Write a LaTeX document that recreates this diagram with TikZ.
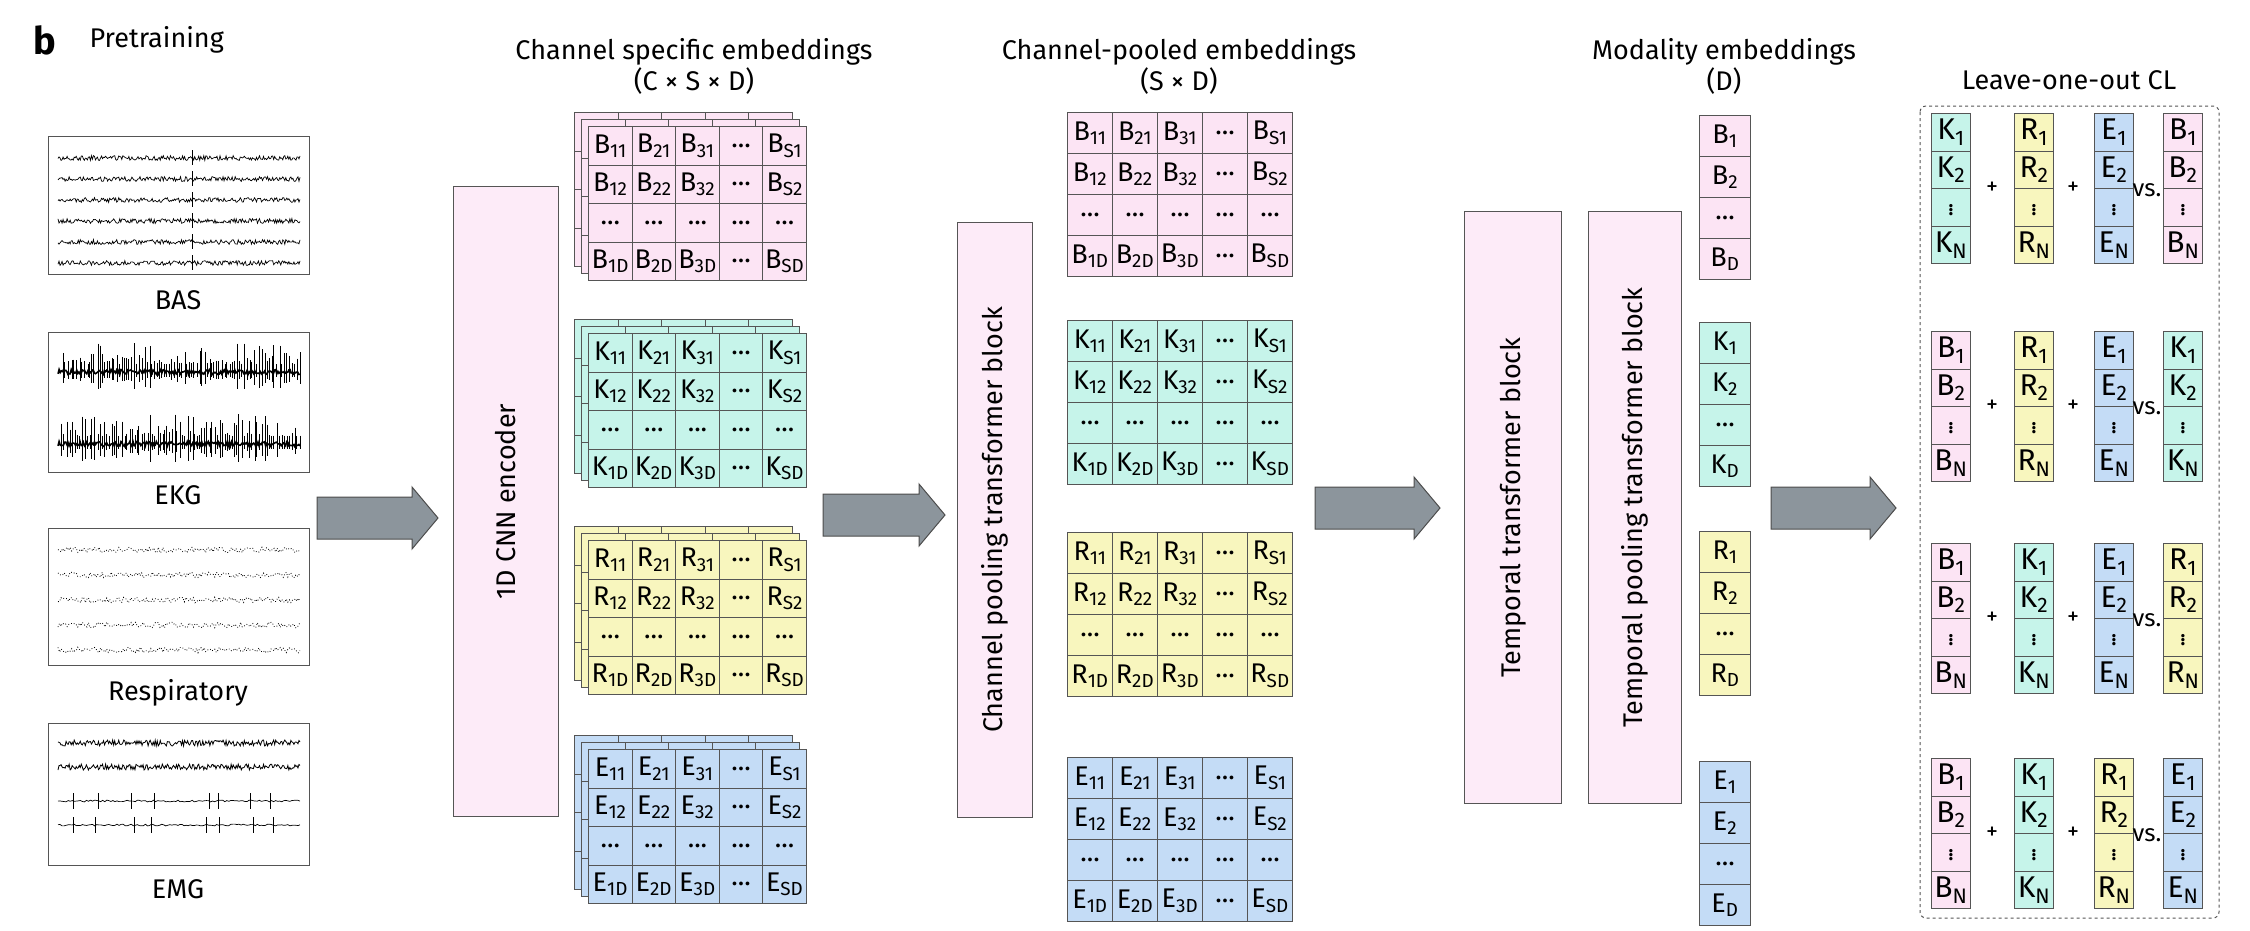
\documentclass[tikz,border=0pt]{standalone}
\usepackage{fontspec}
\setmainfont{Fira Sans}
\usetikzlibrary{calc}
\definecolor{pk}{HTML}{FCE4F4}
\definecolor{cy}{HTML}{C6F4EA}
\definecolor{ye}{HTML}{F8F6BE}
\definecolor{bl}{HTML}{C4DCF6}
\definecolor{enc}{HTML}{FDEBF8}
\definecolor{arr}{HTML}{8C959C}
\definecolor{ln}{HTML}{555555}
\tikzset{
 cell/.style={draw=ln,line width=1pt,anchor=north west,inner sep=0pt,font=\fontsize{27}{28}\selectfont},
 lcell/.style={cell,font=\fontsize{30}{30}\selectfont},
 block/.style={draw=ln,line width=1pt,fill=enc,inner sep=0pt},
 blabel/.style={rotate=90,font=\fontsize{27}{30}\selectfont},
 title/.style={font=\fontsize{27}{31}\selectfont,align=center},
 sig/.style={draw=ln,line width=1.2pt,fill=white},
 bigarrow/.style={draw=black!70,line width=1pt,fill=arr},
 lab/.style={font=\fontsize{27}{30}\selectfont},
}
\newcommand\cellgrid[8]{%
 \foreach \c/\cl in {1/1,2/2,3/3,4/x,5/S}{
  \foreach \r/\rl in {1/1,2/2,3/x,4/D}{
   \pgfmathsetmacro\xx{#2+(\c-1)*#4}
   \pgfmathsetmacro\yy{#3+(\r-1)*#5}
   \ifnum#8=1
    \def\tt{#6\textsubscript{\cl\rl}}
    \ifnum\c=4 \def\tt{...}\fi
    \ifnum\r=3 \def\tt{...}\fi
   \else \def\tt{}\fi
   \node[cell,fill=#7,minimum width=#4pt,minimum height=#5pt] (#1-\c-\r) at (\xx,\yy) {\tt};
  }}}
\newcommand\colm[9]{%
 \node[cell,fill=#7,minimum width=#4pt,minimum height=#5pt] (#1-1) at (#2,#3) {#6\textsubscript{1}};
 \node[cell,fill=#7,minimum width=#4pt,minimum height=#5pt] (#1-2) at (#2,#3+#5) {#6\textsubscript{2}};
 \node[cell,fill=#7,minimum width=#4pt,minimum height=#5pt] (#1-3) at (#2,#3+2*#5) {#9};
 \node[cell,fill=#7,minimum width=#4pt,minimum height=#5pt] (#1-4) at (#2,#3+3*#5) {#6\textsubscript{#8}};
}
\newcommand\lcol[8]{%
 \node[lcell,fill=#7,minimum width=#4pt,minimum height=#5pt] (#1-1) at (#2,#3) {#6\textsubscript{1}};
 \node[lcell,fill=#7,minimum width=#4pt,minimum height=#5pt] (#1-2) at (#2,#3+#5) {#6\textsubscript{2}};
 \node[lcell,fill=#7,minimum width=#4pt,minimum height=#5pt] (#1-3) at (#2,#3+2*#5) {\fontsize{24}{24}\selectfont$\vdots$};
 \node[lcell,fill=#7,minimum width=#4pt,minimum height=#5pt] (#1-4) at (#2,#3+3*#5) {#6\textsubscript{#8}};
}
\newcommand\barrow[4]{%
 \draw[bigarrow] (#2,#4-21) -- (#3-26,#4-21) -- (#3-26,#4-31) -- (#3,#4) -- (#3-26,#4+31) -- (#3-26,#4+21) -- (#2,#4+21) -- cycle;
 \coordinate (#1) at (#3,#4);
}
\begin{document}
\begin{tikzpicture}[x=1pt,y=-1pt]
\useasboundingbox (0,0) rectangle (2250,930);
\node[anchor=west,font=\fontsize{38}{40}\selectfont\bfseries] (b) at (30,40) {b};
\node[anchor=west,lab] (pt) at (86,40) {Pretraining};

\pgfmathsetseed{7}
\node[sig,anchor=north west,minimum width=261pt,minimum height=138pt] (bas) at (48,136) {};
\foreach \k in {0,...,5}{
 \draw[line width=0.7pt] plot[domain=58:300,samples=240] (\x,{158+\k*21+2.4*rand});
 \draw[line width=0.6pt] (192,{150+\k*21}) -- ++(0,15);
}
\node[lab] (basl) at (178,300) {BAS};
\node[sig,anchor=north west,minimum width=261pt,minimum height=140pt] (ekg) at (48,332) {};
\foreach \k in {0,1}{
 \foreach \s in {61,63.5,...,299}{
  \pgfmathsetmacro\h{8+22*rnd^2}
  \draw[line width=0.5pt] (\s+2*rnd,{372+\k*72-\h}) -- ++(0,{1.6*\h});
 }
 \draw[line width=1.6pt] plot[domain=58:300,samples=220] (\x,{372+\k*72+2.5*rand});
}
\node[lab] (ekgl) at (178,495) {EKG};
\node[sig,anchor=north west,minimum width=261pt,minimum height=137pt] (res) at (48,528) {};
\foreach \k in {0,...,4}{
 \draw[line width=0.8pt,dotted] plot[domain=58:300,samples=160] (\x,{550+\k*25+2.8*rand});
}
\node[lab] (resl) at (178,693) {Respiratory};
\node[sig,anchor=north west,minimum width=261pt,minimum height=142pt] (emg) at (48,723) {};
\foreach \k in {0,1}{
 \draw[line width=0.8pt] plot[domain=58:300,samples=240] (\x,{743+\k*24+3*rand});}
\foreach \k in {2,3}{
 \draw[line width=0.7pt] plot[domain=58:300,samples=120] (\x,{753+\k*24+0.9*rand});
 \foreach \s in {70,95,130,150,205,215,250,270}{\draw[line width=0.7pt] (\s+5*rnd,753+\k*24-8) -- ++(0,16);}
}
\node[lab] (emgl) at (178,889) {EMG};

\barrow{a1}{317}{438}{518}
\node[block,anchor=north west,minimum width=105pt,minimum height=630pt] (enc) at (453,186) {};
\node[blabel] at (enc.center) {1D CNN encoder};

\node[title] (t1) at (694,66) {Channel specific embeddings\\(C × S × D)};
\foreach \nm/\L/\C/\Y in {B/B/pk/126,K/K/cy/333,R/R/ye/540,E/E/bl/749}{
 \cellgrid{cs\nm b}{588-14}{\Y-14}{43.6}{38.5}{\L}{\C}{0}
 \cellgrid{cs\nm m}{588-7}{\Y-7}{43.6}{38.5}{\L}{\C}{0}
 \cellgrid{cs\nm}{588}{\Y}{43.6}{38.5}{\L}{\C}{1}
}
\barrow{a2}{823}{945}{515}
\node[block,anchor=north west,minimum width=75pt,minimum height=595pt] (cp) at (957,222) {};
\node[blabel] at (cp.center) {Channel pooling transformer block};

\node[title] (t2) at (1179,66) {Channel-pooled embeddings\\(S × D)};
\foreach \nm/\L/\C/\Y in {B/B/pk/112,K/K/cy/320,R/R/ye/532,E/E/bl/757}{
 \cellgrid{cp\nm}{1067}{\Y}{45}{41}{\L}{\C}{1}
}
\barrow{a3}{1315}{1440}{508}
\node[block,anchor=north west,minimum width=97pt,minimum height=592pt] (tt) at (1464,211) {};
\node[blabel] at (tt.center) {Temporal transformer block};
\node[block,anchor=north west,minimum width=93pt,minimum height=592pt] (tp) at (1588,211) {};
\node[blabel] at (tp.center) {Temporal pooling transformer block};

\node[title] (t3) at (1724,66) {Modality embeddings\\(D)};
\foreach \nm/\L/\C/\Y in {B/B/pk/115,K/K/cy/322,R/R/ye/531,E/E/bl/761}{
 \colm{md\nm}{1699}{\Y}{51}{41}{\L}{\C}{D}{...}
}
\barrow{a4}{1771}{1896}{508}

\node[title] (t4) at (2069,80) {Leave-one-out CL};
\draw[dashed,line width=1pt,rounded corners=6pt,draw=ln] (1920,106) rectangle (2219,918);
\foreach \row/\Y/\A/\AC/\Bx/\BC/\Cx/\CC/\D/\DC in {
 1/113/K/cy/R/ye/E/bl/B/pk,
 2/331/B/pk/R/ye/E/bl/K/cy,
 3/543/B/pk/K/cy/E/bl/R/ye,
 4/758/B/pk/K/cy/R/ye/E/bl}{
 \lcol{l\row a}{1931}{\Y}{39}{37.5}{\A}{\AC}{N}
 \lcol{l\row b}{2014}{\Y}{39}{37.5}{\Bx}{\BC}{N}
 \lcol{l\row c}{2094}{\Y}{39}{37.5}{\Cx}{\CC}{N}
 \lcol{l\row d}{2163}{\Y}{39}{37.5}{\D}{\DC}{N}
 \node[font=\fontsize{24}{24}\selectfont] at (1992,\Y+75) {+};
 \node[font=\fontsize{24}{24}\selectfont] at (2073,\Y+75) {+};
 \node[font=\fontsize{24}{24}\selectfont] at (2147,\Y+77) {vs.};
}
\end{tikzpicture}
\end{document}
